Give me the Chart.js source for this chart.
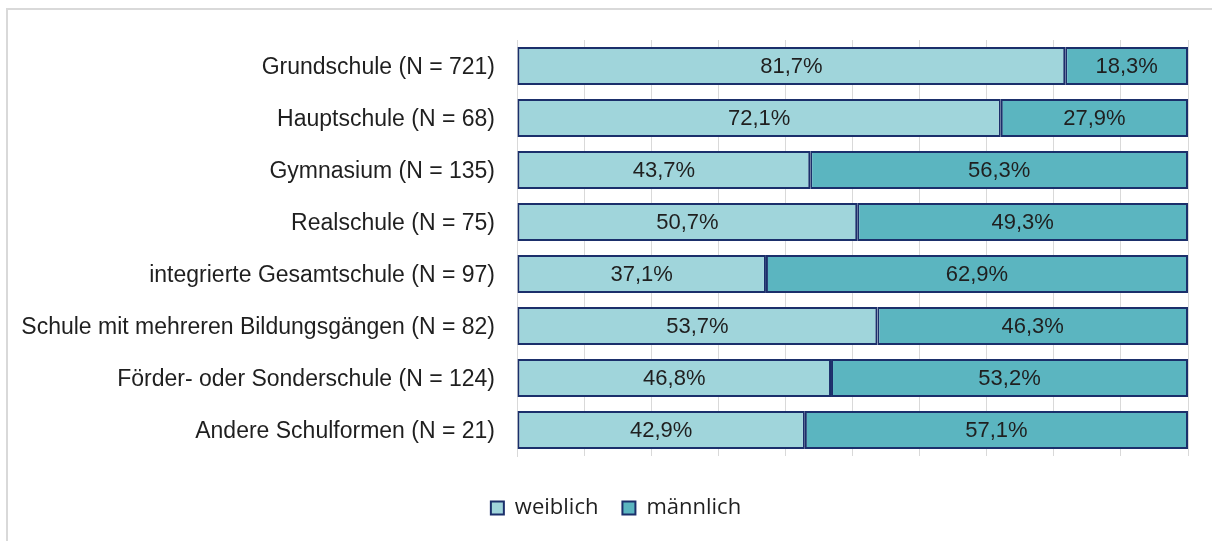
<!DOCTYPE html>
<html>
<head>
<meta charset="utf-8">
<script src="https://cdn.jsdelivr.net/npm/chart.js@4"></script>
<style>
    body { margin: 0; background: #fff; }
    #wrap { position: relative; width: 1212px; height: 541px; overflow: hidden; }
    #frame { position: absolute; left: 6px; top: 8px; width: 1300px; height: 700px; border: 2px solid #d9d9d9; pointer-events: none; }
    canvas { position: absolute; left: 0; top: 0; }
</style>
</head>
<body>
<div id="wrap">
    <canvas id="chart" width="1212" height="541"></canvas>
    <div id="frame"></div>
</div>
<script>
const categories = [
    'Grundschule (N = 721)',
    'Hauptschule (N = 68)',
    'Gymnasium (N = 135)',
    'Realschule (N = 75)',
    'integrierte Gesamtschule (N = 97)',
    'Schule mit mehreren Bildungsgängen (N = 82)',
    'Förder- oder Sonderschule (N = 124)',
    'Andere Schulformen (N = 21)',
]
const weiblich = [81.7, 72.1, 43.7, 50.7, 37.1, 53.7, 46.8, 42.9]
const maennlich = [18.3, 27.9, 56.3, 49.3, 62.9, 46.3, 53.2, 57.1]
const xTicks = [0, 10, 20, 30, 40, 50, 60, 70, 80, 90, 100]

const textColor = '#1f1f1f'
const borderNavy = '#1b2f6b'
const labelFont = '"Liberation Sans", Arial, sans-serif'

// draws the percent values in the middle of each bar
const valueLabels = {
    id: 'valueLabels',
    afterDatasetsDraw(chart) {
        const ctx = chart.ctx
        ctx.save()
        ctx.font = '22px ' + labelFont
        ctx.fillStyle = textColor
        ctx.textAlign = 'center'
        ctx.textBaseline = 'middle'
        chart.data.datasets.forEach((ds, i) => {
            chart.getDatasetMeta(i).data.forEach((bar, j) => {
                const label = ds.data[j].toFixed(1).replace('.', ',') + '%'
                ctx.fillText(label, (bar.x + bar.base) / 2, bar.y + 1)
            })
        })
        ctx.restore()
    },
}

// legend sits centred on the whole canvas, not only the area left of the padding
const shiftLegend = {
    id: 'shiftLegend',
    afterLayout(chart) {
        chart.legend.left += 22
        chart.legend.right += 22
    },
}

new Chart('chart', {
    type: 'bar',
    data: {
        labels: categories,
        datasets: [
            {
                label: 'weiblich',
                data: weiblich,
                backgroundColor: '#a0d5db',
                borderColor: borderNavy,
                borderWidth: 2,
                borderSkipped: false,
            },
            {
                label: 'männlich',
                data: maennlich,
                backgroundColor: '#5bb5c0',
                borderColor: borderNavy,
                borderWidth: 2,
                borderSkipped: false,
            },
        ],
    },
    options: {
        indexAxis: 'y',
        responsive: false,
        animation: false,
        barPercentage: 0.73,
        categoryPercentage: 1,
        layout: {
            padding: { top: 40, right: 24, bottom: 12, left: 0 },
        },
        scales: {
            x: {
                stacked: true,
                min: 0,
                max: 100,
                afterBuildTicks: (scale) => {
                    scale.ticks = xTicks.map((v) => ({ value: v }))
                },
                afterFit: (scale) => {
                    scale.height = 17
                },
                ticks: { display: false },
                grid: { color: '#d9d9d9', lineWidth: 1, drawTicks: false },
                border: { display: false },
            },
            y: {
                stacked: true,
                afterFit: (scale) => {
                    scale.width = 517
                },
                ticks: {
                    padding: 22,
                    labelOffset: 2,
                    color: textColor,
                    font: { size: 23, family: labelFont },
                },
                grid: { display: false, drawTicks: false },
                border: { color: '#d9d9d9', width: 1 },
            },
        },
        plugins: {
            legend: {
                position: 'bottom',
                labels: {
                    boxWidth: 13,
                    boxHeight: 13,
                    padding: 24,
                    color: textColor,
                    font: { size: 22, family: '"Open Sans", sans-serif' },
                },
            },
            tooltip: { enabled: false },
        },
    },
    plugins: [valueLabels, shiftLegend],
})
</script>
</body>
</html>
